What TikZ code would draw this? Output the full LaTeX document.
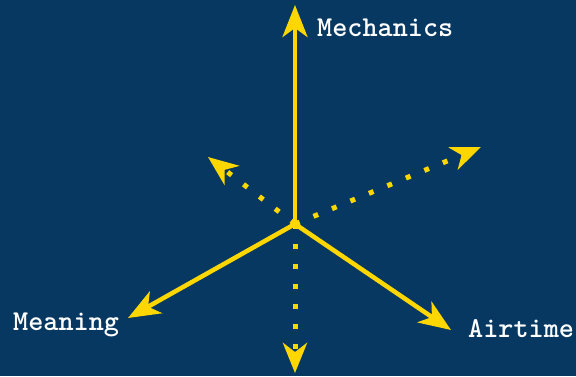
\documentclass[tikz,border=0pt]{standalone}
\usepackage{fontspec}
\usetikzlibrary{positioning,arrows.meta}
\definecolor{NightBlue}{RGB}{7,56,98}
\definecolor{AxisGold}{RGB}{255,215,0}
\tikzset{
  axis/.style={-{Stealth[length=32pt,width=25pt,inset=9pt]},line width=4.5pt,draw=AxisGold},
  dotaxis/.style={-{Stealth[length=30pt,width=24pt,inset=9pt]},line width=5pt,draw=AxisGold,
    dash pattern=on 5pt off 15pt},
  axislabel/.style={text=white,font=\fontsize{28.8}{30}\selectfont\ttfamily\bfseries,inner sep=0pt}
}
\begin{document}
\begin{tikzpicture}[x=1pt,y=-1pt]
  \fill[NightBlue] (0,0) rectangle (576,376);
  \useasboundingbox (0,0) rectangle (576,376);
  \coordinate (origin) at (295,224);
  \coordinate (mechtip) at (295,5);
  \coordinate (meantip) at (128,318);
  \coordinate (airtip) at (451,330);
  \coordinate (downtip) at (295,373);
  \coordinate (lefttip) at (208,157);
  \coordinate (righttip) at (481,147);
  \node[axislabel,anchor=base west] (mechanics) at (317,36) {Mechanics};
  \node[axislabel,anchor=base west] (meaning) at (13,330) {Meaning};
  \node[axislabel,anchor=base west] (airtime) at (468,337) {Airtime};
  \draw[axis] (origin) -- (mechtip);
  \draw[axis] (origin) -- (meantip);
  \draw[axis] (origin) -- (airtip);
  \draw[dotaxis] (origin) -- (downtip);
  \draw[dotaxis] (origin) -- (lefttip);
  \draw[dotaxis] (origin) -- (righttip);
\end{tikzpicture}
\end{document}
